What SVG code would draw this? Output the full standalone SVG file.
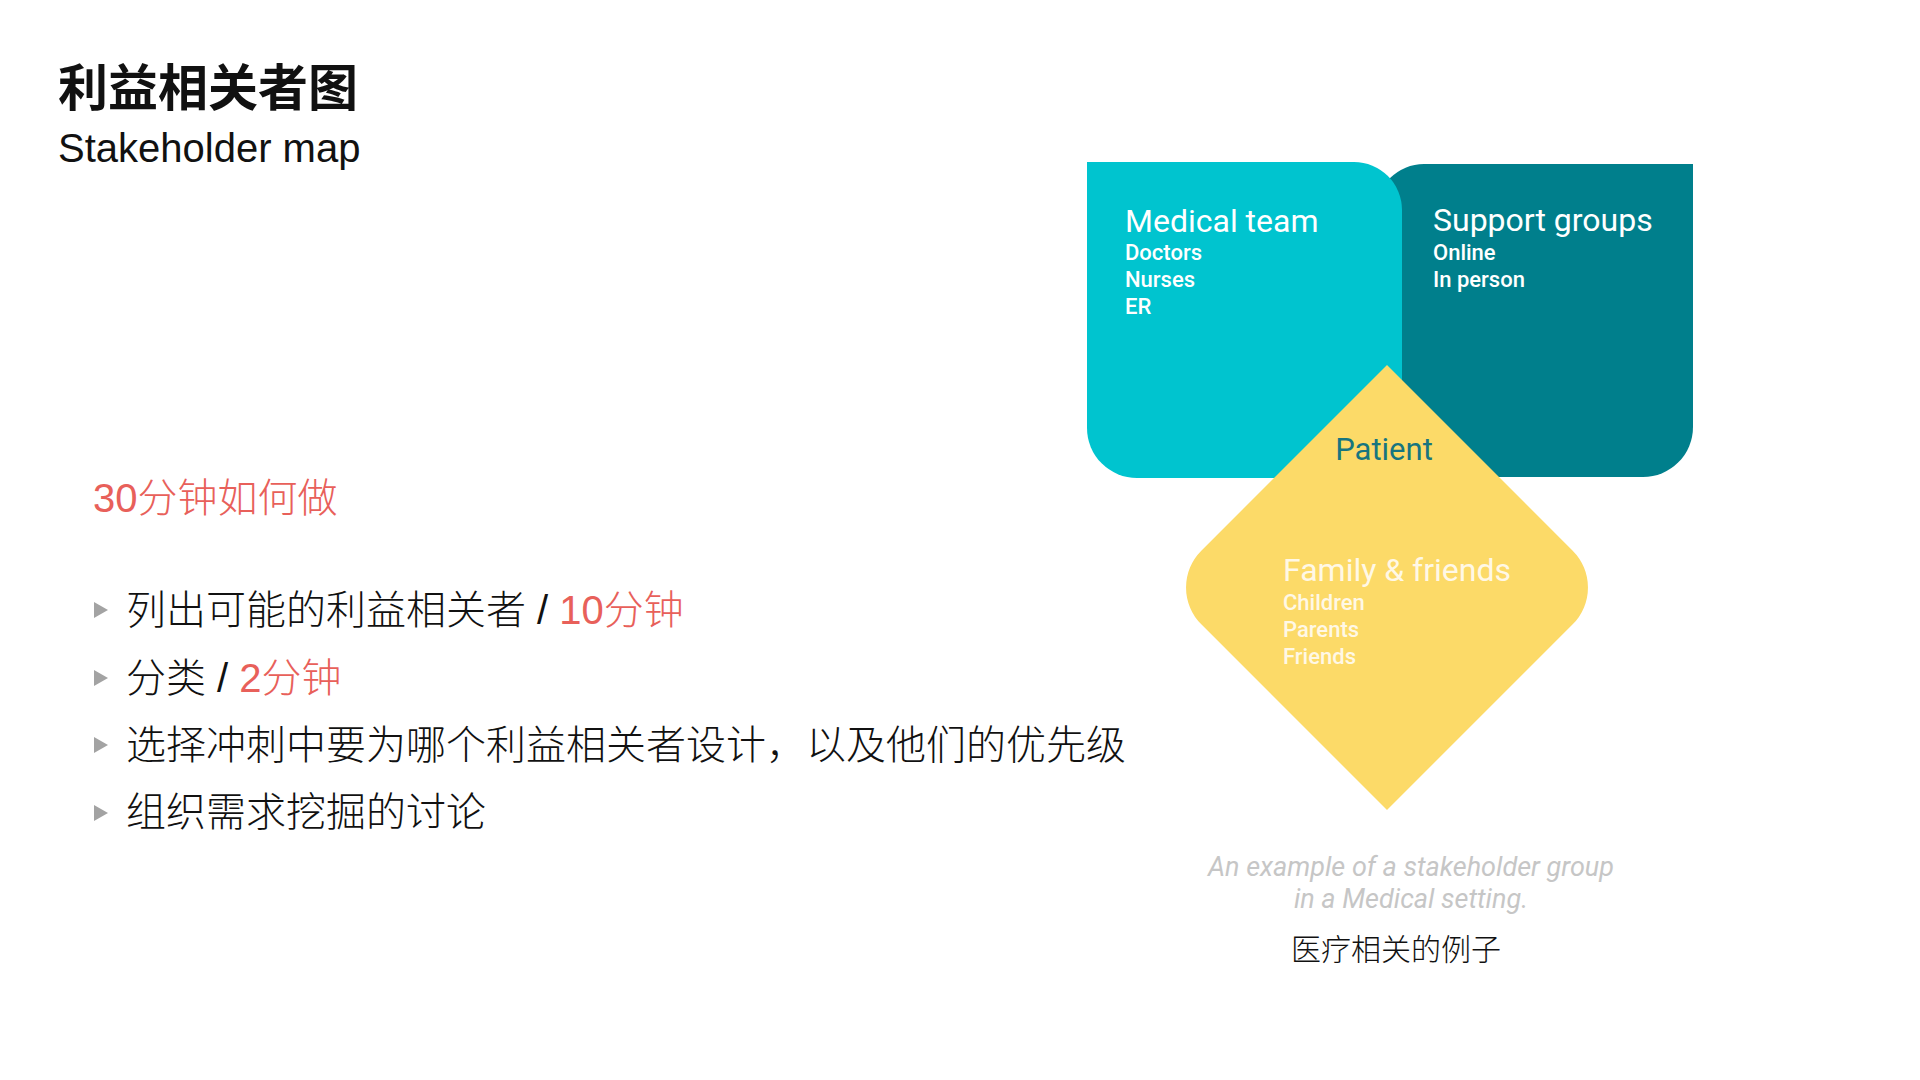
<svg xmlns="http://www.w3.org/2000/svg" width="1920" height="1080" viewBox="0 0 1920 1080">
  <style>
    .title { font-family: "Noto Sans CJK SC", sans-serif; font-size: 50px; font-weight: 700; fill: #111; }
    .sub { font-family: "Liberation Sans", sans-serif; font-size: 40px; fill: #111; }
    .bullet-text { font-family: "Liberation Sans", "Noto Sans CJK SC", sans-serif; font-size: 40px; font-weight: 300; fill: #111; }
    .bullet-text .red, text.red { fill: #e8605a; }
    .bullet { fill: #a3a3a3; }
    .head { font-family: Roboto, "Liberation Sans", sans-serif; font-size: 32px; font-weight: 400; fill: #ffffff; }
    .item { font-family: Roboto, "Liberation Sans", sans-serif; font-size: 22px; font-weight: 500; fill: #ffffff; }
    text.onyellow { fill: #fff8e6; }
    .patient { font-family: Roboto, "Liberation Sans", sans-serif; font-size: 31px; font-weight: 400; fill: #17757f; }
    .caption { font-family: Roboto, "Liberation Sans", sans-serif; font-size: 27px; font-style: italic; fill: #c6c6c6; }
    .caption-cn { font-family: "Noto Sans CJK SC", sans-serif; font-size: 30px; font-weight: 300; fill: #111; }
  </style>
  <rect width="1920" height="1080" fill="#ffffff"/>

  <g id="heading">
    <text class="title" x="58" y="106">利益相关者图</text>
    <text class="sub" x="58" y="162">Stakeholder map</text>
  </g>

  <g id="instructions">
    <text class="bullet-text red" x="93" y="512">30分钟如何做</text>
    <polygon class="bullet" points="94,602 108,610 94,618"/>
    <text class="bullet-text" x="126" y="624">列出可能的利益相关者 / <tspan class="red">10分钟</tspan></text>
    <polygon class="bullet" points="94,670 108,678 94,686"/>
    <text class="bullet-text" x="126" y="692">分类 / <tspan class="red">2分钟</tspan></text>
    <polygon class="bullet" points="94,737 108,745 94,753"/>
    <text class="bullet-text" x="126" y="759">选择冲刺中要为哪个利益相关者设计，以及他们的优先级</text>
    <polygon class="bullet" points="94,805 108,813 94,821"/>
    <text class="bullet-text" x="126" y="826">组织需求挖掘的讨论</text>
  </g>

  <g id="support-groups">
    <path d="M1376,212 A48,48 0 0 1 1424,164 H1693 V427 A50,50 0 0 1 1643,477 H1376 Z" fill="#007f8c"/>
    <text class="head" x="1433" y="231">Support groups</text>
    <text class="item" x="1433" y="260">Online</text>
    <text class="item" x="1433" y="287">In person</text>
  </g>

  <g id="medical-team">
    <path d="M1087,162 H1354 A48,48 0 0 1 1402,210 V478 H1137 A50,50 0 0 1 1087,428 Z" fill="#00c4cf"/>
    <text class="head" x="1125" y="232">Medical team</text>
    <text class="item" x="1125" y="260">Doctors</text>
    <text class="item" x="1125" y="287">Nurses</text>
    <text class="item" x="1125" y="314">ER</text>
  </g>

  <g id="family-friends">
    <path d="M1387,365 L1572.7,550.7 A52,52 0 0 1 1572.7,624.3 L1387,810 L1201.3,624.3 A52,52 0 0 1 1201.3,550.7 Z" fill="#fcda68"/>
    <text class="patient" x="1384" y="460" text-anchor="middle">Patient</text>
    <text class="head onyellow" x="1283" y="581">Family &amp; friends</text>
    <text class="item onyellow" x="1283" y="610">Children</text>
    <text class="item onyellow" x="1283" y="637">Parents</text>
    <text class="item onyellow" x="1283" y="664">Friends</text>
  </g>

  <g id="connectors"/>

  <g id="caption">
    <text class="caption" x="1411" y="876" text-anchor="middle">An example of a stakeholder group</text>
    <text class="caption" x="1411" y="908" text-anchor="middle">in a Medical setting.</text>
    <text class="caption-cn" x="1396" y="960" text-anchor="middle">医疗相关的例子</text>
  </g>
</svg>
